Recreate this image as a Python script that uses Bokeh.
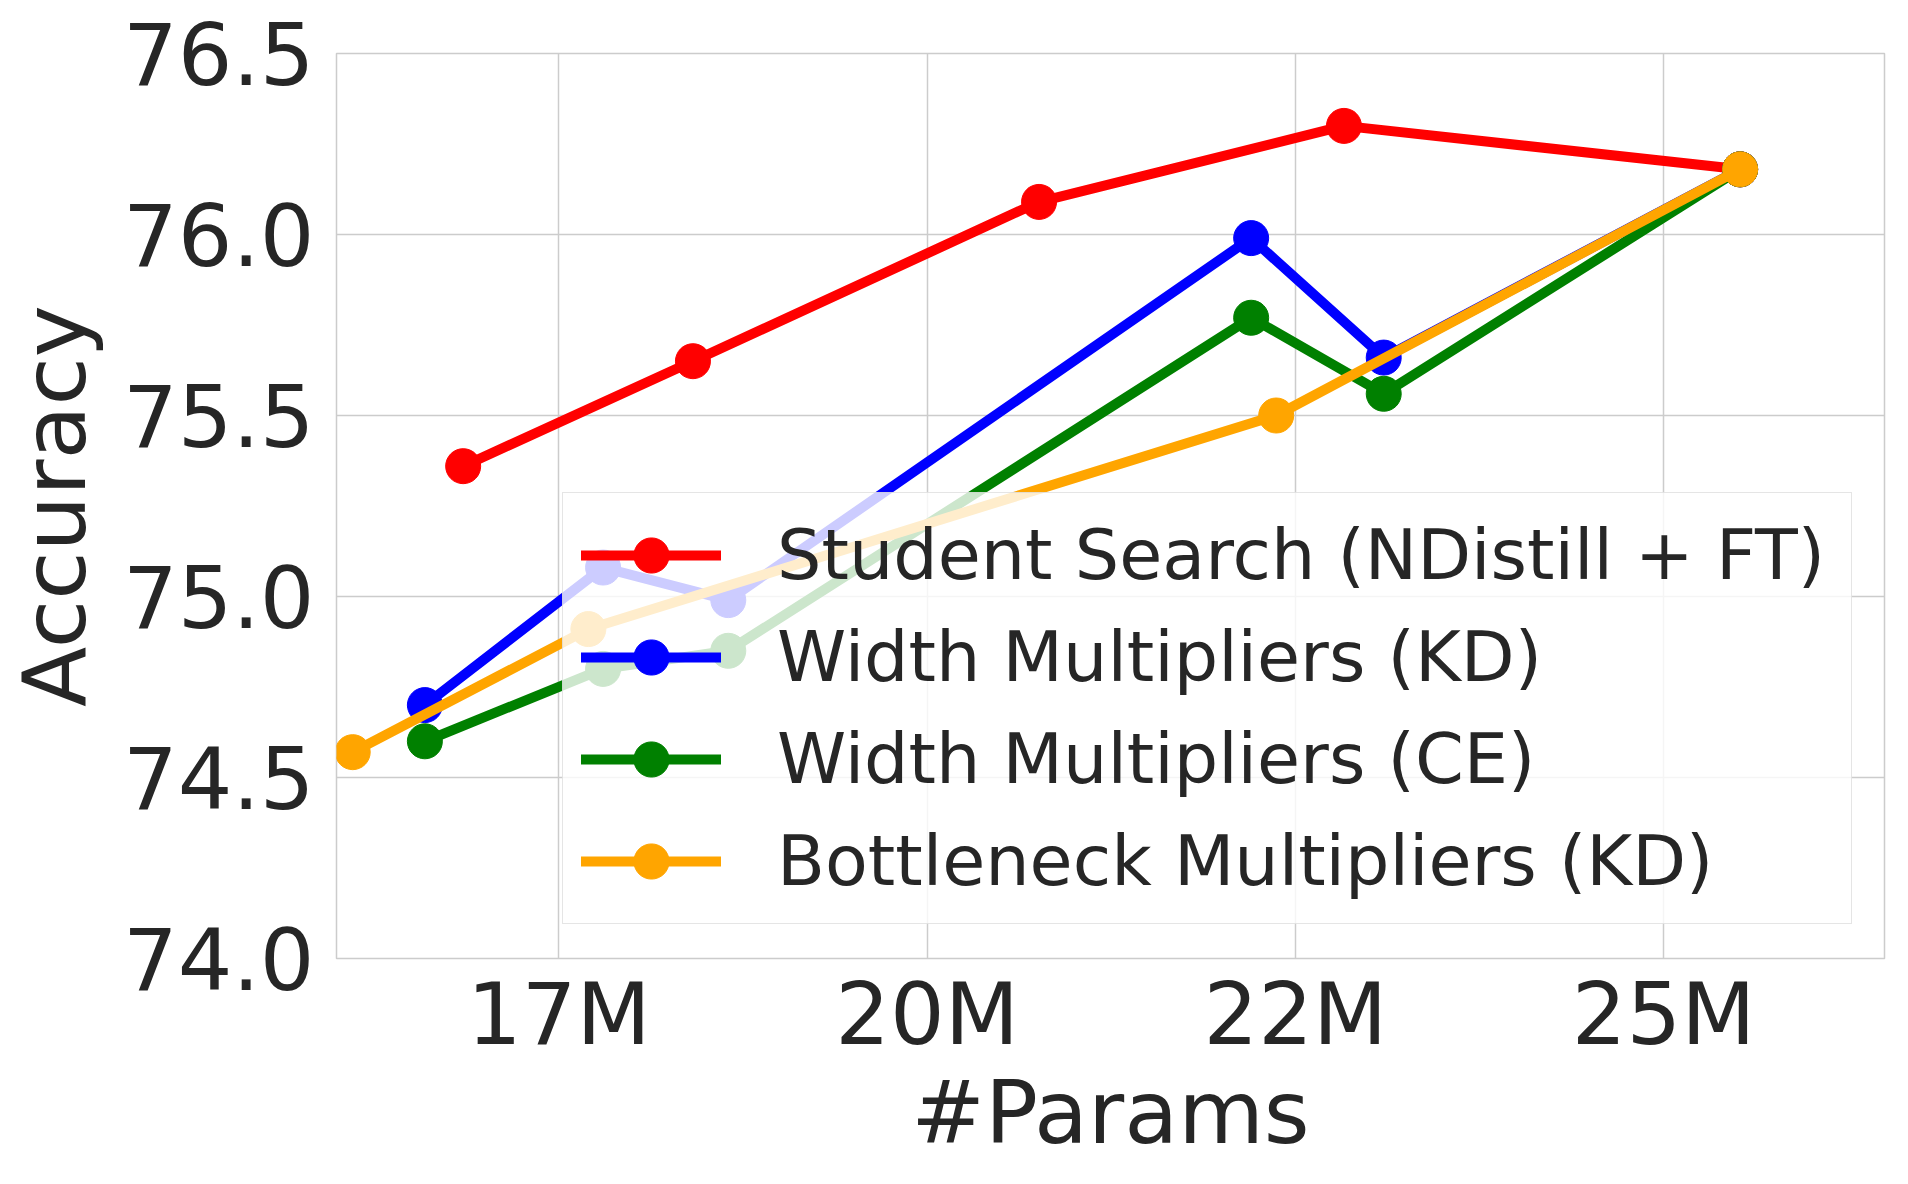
from bokeh.plotting import figure
from bokeh.models import Range1d, FixedTicker, Legend, LegendItem, NumeralTickFormatter
from bokeh.embed import file_html
from bokeh.resources import INLINE

# Data (params in millions, accuracy in %)
search_params = [16.85, 18.41, 20.76, 22.83, 25.52]
search_acc = [75.36, 75.65, 76.09, 76.30, 76.18]

wkd_params = [16.59, 17.80, 18.65, 22.20, 23.10, 25.52]
wkd_acc = [74.70, 75.08, 74.99, 75.99, 75.66, 76.18]

wce_params = [16.59, 17.80, 18.65, 22.20, 23.10, 25.52]
wce_acc = [74.60, 74.80, 74.85, 75.77, 75.56, 76.18]

bkd_params = [16.10, 17.70, 22.37, 25.52]
bkd_acc = [74.57, 74.91, 75.50, 76.18]

x_ticks = [17.5, 20.0, 22.5, 25.0]
x_tick_labels = ["17M", "20M", "22M", "25M"]
y_ticks = [74.0, 74.5, 75.0, 75.5, 76.0, 76.5]

labels = ["Student Search (NDistill + FT)", "Width Multipliers (KD)",
          "Width Multipliers (CE)", "Bottleneck Multipliers (KD)"]
colors = ["red", "blue", "green", "orange"]

TEXT = "#262626"
GRID = "#cccccc"
FONT = "DejaVu Sans"

p = figure(width=1900, height=1176, output_backend="svg", toolbar_location=None,
           x_range=Range1d(15.99, 26.5), y_range=Range1d(74.0, 76.5),
           min_border_left=300, min_border_right=16, min_border_top=53,
           min_border_bottom=218)

p.background_fill_color = "white"
p.border_fill_color = "white"
p.outline_line_color = GRID
p.outline_line_width = 1.5

series = [(search_params, search_acc), (wkd_params, wkd_acc),
          (wce_params, wce_acc), (bkd_params, bkd_acc)]
items = []
for (xs, ys), c, lab in zip(series, colors, labels):
    l = p.line(xs, ys, line_color=c, line_width=10, line_cap="round", line_join="round")
    s = p.scatter(xs, ys, marker="circle", size=35, fill_color=c, line_color=c)
    items.append(LegendItem(label=lab, renderers=[l, s]))

for ax in (p.xaxis[0], p.yaxis[0]):
    ax.axis_line_color = None
    ax.major_tick_line_color = None
    ax.minor_tick_line_color = None
    ax.major_tick_out = 0
    ax.major_tick_in = 0
    ax.major_label_text_font = FONT
    ax.major_label_text_color = TEXT
    ax.major_label_text_font_size = "86px"
    ax.axis_label_text_font = FONT
    ax.axis_label_text_color = TEXT
    ax.axis_label_text_font_size = "88px"
    ax.axis_label_text_font_style = "normal"

p.xaxis.ticker = FixedTicker(ticks=x_ticks)
p.xaxis.major_label_overrides = dict(zip(x_ticks, x_tick_labels))
p.xaxis.axis_label = "#Params"
p.xaxis.major_label_standoff = 5
p.xaxis.axis_label_standoff = -6

p.yaxis.ticker = FixedTicker(ticks=y_ticks)
p.yaxis.formatter = NumeralTickFormatter(format="0.0")
p.yaxis.axis_label = "Accuracy"
p.yaxis.major_label_standoff = 22
p.yaxis.axis_label_standoff = 14

p.xgrid.grid_line_color = GRID
p.ygrid.grid_line_color = GRID
p.xgrid.grid_line_width = 1.5
p.ygrid.grid_line_width = 1.5
p.xgrid.ticker = FixedTicker(ticks=x_ticks)
p.ygrid.ticker = FixedTicker(ticks=y_ticks)

legend = Legend(items=items, location=(226, 34), margin=0,
                padding=18, spacing=14, glyph_width=140, glyph_height=88,
                label_height=88, label_standoff=56, label_width=1056,
                label_text_font=FONT, label_text_font_size="70px",
                label_text_color=TEXT,
                background_fill_color="white", background_fill_alpha=0.8,
                border_line_color=GRID, border_line_width=1.5)
p.add_layout(legend, "center")

open("out.html", "w").write(file_html(p, INLINE))
